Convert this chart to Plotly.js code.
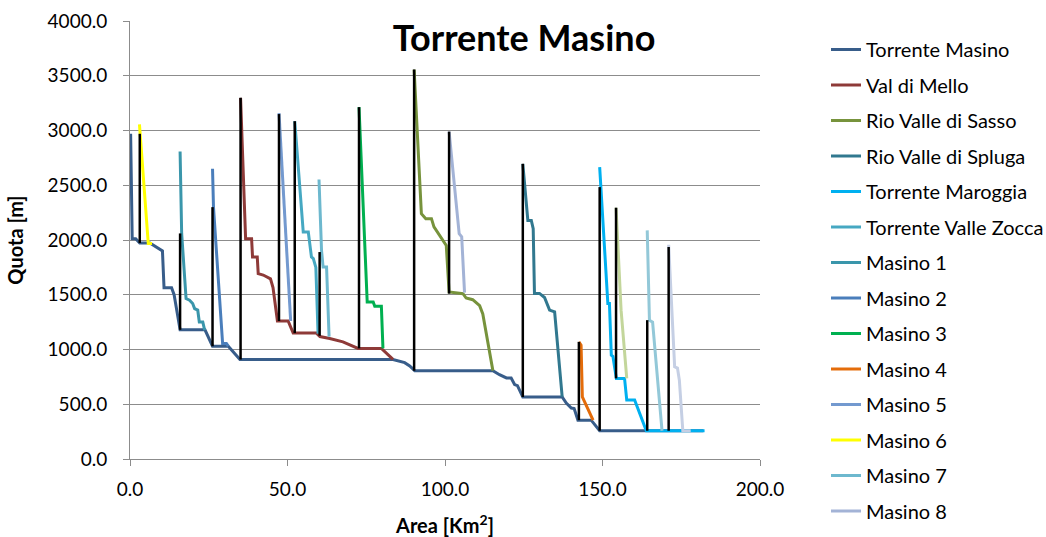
<!DOCTYPE html>
<html>
<head>
<meta charset="utf-8">
<script src="https://cdn.plot.ly/plotly-3.0.1.min.js"></script>
<style>html,body{margin:0;padding:0;background:#fff}#chart{width:1046px;height:537px}</style>
</head>
<body>
<div id="chart"></div>
<script>
// ---- data (Area in km², Quota in m) ----
const mainX = [0.2, 0.7, 1.8, 3.1, 6.3, 7.4, 8.5, 10.3, 10.8, 13.2, 14.0, 15.9, 23.8, 26.2, 31.2, 34.9, 83.5, 85.0, 87.2, 88.8, 90.4, 115.2, 117.3, 119.5, 121.0, 122.1, 123.0, 124.7, 137.2, 138.5, 140.1, 141.0, 142.2, 146.4, 149.1, 182.0];
const mainY = [2970, 2012, 2012, 1972, 1972, 1950, 1930, 1900, 1565, 1565, 1500, 1180, 1180, 1030, 1030, 909, 909, 900, 880, 850, 807, 807, 770, 740, 740, 680, 670, 566, 566, 510, 465, 460, 355, 355, 258, 258];

const melloX = [35.1, 36.7, 38.6, 38.9, 40.4, 40.7, 42.3, 44.6, 45.4, 46.8, 50.2, 51.8, 59.2, 60.3, 63.4, 67.6, 72.4, 79.8, 83.5];
const melloY = [3298, 2012, 2012, 1845, 1845, 1693, 1680, 1645, 1565, 1260, 1260, 1150, 1150, 1118, 1100, 1070, 1010, 1010, 909];

const sassoX = [90.2, 92.5, 93.9, 95.7, 96.5, 99.4, 100.4, 101.3, 105.7, 106.7, 108.8, 111.0, 112.0, 115.2];
const sassoY = [3556, 2240, 2195, 2195, 2120, 1995, 1950, 1525, 1510, 1470, 1455, 1400, 1325, 807];

const splugaX = [124.7, 126.3, 127.4, 128.0, 128.4, 130.0, 131.6, 133.2, 134.8, 137.2];
const splugaY = [2696, 2179, 2179, 2104, 1512, 1512, 1475, 1360, 1343, 568];

const maroggiaX = [149.1, 151.7, 152.2, 152.8, 153.3, 154.4, 157.0, 157.7, 160.2, 163.9, 182.4];
const maroggiaY = [2666, 1420, 1420, 948, 938, 736, 736, 538, 538, 258, 258];

const zoccaX = [52.3, 55.0, 56.6, 57.6, 58.2, 59.0, 59.7];
const zoccaY = [3085, 2073, 2073, 1845, 1830, 1750, 1145];

const m1X = [15.9, 16.4, 17.8, 18.9, 19.9, 20.5, 21.5, 22.0, 23.1, 23.7];
const m1Y = [2808, 2060, 1465, 1450, 1420, 1374, 1360, 1252, 1252, 1177];

const m2X = [26.2, 26.5, 29.4, 30.6, 31.2];
const m2Y = [2650, 2300, 1055, 1055, 1030];

const m3X = [72.7, 75.3, 77.2, 77.7, 79.8, 80.3];
const m3Y = [3213, 1434, 1434, 1395, 1395, 1010];

const m4X = [142.5, 143.2, 143.6, 147.0];
const m4Y = [1070, 1040, 568, 355];

const m5X = [47.3, 51.0];
const m5Y = [3158, 1260];

const m6X = [3.0, 5.8, 7.0];
const m6Y = [3055, 1967, 1967];

const m7X = [60.0, 60.8, 61.3, 62.4, 63.2];
const m7Y = [2553, 1906, 1753, 1753, 1118];

const m8X = [101.3, 104.5, 105.3, 106.2];
const m8Y = [2990, 2058, 2030, 1520];

const m9X = [154.3, 155.9, 157.7];
const m9Y = [2295, 1359, 736];

const m10X = [164.2, 164.9, 165.9, 168.9];
const m10Y = [2088, 1268, 1250, 258];

const m11X = [171.0, 172.9, 173.8, 174.4, 175.5, 178.0];
const m11Y = [1957, 842, 830, 720, 258, 258];

// junction connectors: x, top quota, bottom quota
const junctionX = [3.1, 15.9, 26.2, 35.1, 47.3, 52.3, 60.2, 72.7, 90.2, 101.3, 124.7, 142.5, 149.1, 154.3, 164.2, 171.0];
const junctionTop = [2970, 2060, 2300, 3298, 3150, 3085, 1890, 3213, 3556, 2990, 2696, 1070, 2483, 2295, 1268, 1936];
const junctionBottom = [1972, 1180, 1030, 909, 1260, 1150, 1125, 1010, 807, 1510, 566, 355, 258, 736, 258, 258];

const seriesNames = ['Torrente Masino','Val di Mello','Rio Valle di Sasso','Rio Valle di Spluga','Torrente Maroggia','Torrente Valle Zocca','Masino 1','Masino 2','Masino 3','Masino 4','Masino 5','Masino 6','Masino 7','Masino 8','Masino 9','Masino 10','Masino 11'];
const seriesX = [mainX, melloX, sassoX, splugaX, maroggiaX, zoccaX, m1X, m2X, m3X, m4X, m5X, m6X, m7X, m8X, m9X, m10X, m11X];
const seriesY = [mainY, melloY, sassoY, splugaY, maroggiaY, zoccaY, m1Y, m2Y, m3Y, m4Y, m5Y, m6Y, m7Y, m8Y, m9Y, m10Y, m11Y];
const seriesColors = ['#385D8A','#8E3A38','#77933C','#31788F','#00B0F0','#46A8C2','#3A96AB','#4A7EBB','#00B050','#E46C0A','#7399CF','#FFFF00','#6DB8CE','#A3B3D6','#C3D69B','#93C8D8','#C5CFE4'];
const legendCount = 14;

const FONT = 'Lato, "Open Sans", sans-serif';

const traces = seriesNames.map((n, i) => ({
  type: 'scatter', mode: 'lines', name: n,
  x: seriesX[i], y: seriesY[i],
  line: {color: seriesColors[i], width: 3},
  showlegend: i < legendCount,
  legendgroup: 'g' + i,
  hoverinfo: 'skip'
}));

const bx = [], by = [];
junctionX.forEach((x, i) => { bx.push(x, x, null); by.push(junctionTop[i], junctionBottom[i], null); });
traces.push({type: 'scatter', mode: 'lines', x: bx, y: by, line: {color: '#000000', width: 2.5}, showlegend: false, hoverinfo: 'skip', connectgaps: false});

const layout = {
  width: 1046, height: 537,
  margin: {l: 130, r: 286, t: 21, b: 78, pad: 0},
  paper_bgcolor: '#ffffff', plot_bgcolor: '#ffffff',
  font: {family: FONT, color: '#000000'},
  title: {text: '<b>Torrente Masino</b>', font: {family: FONT, size: 36, color: '#000'}, xref: 'container', x: 0.501, xanchor: 'center', yref: 'container', y: 1 - 38/537, yanchor: 'middle'},
  xaxis: {
    range: [0, 200], dtick: 50, tick0: 0, tickformat: '.1f',
    showgrid: false, zeroline: false, showline: true, linecolor: '#8C8C8C', linewidth: 1,
    ticks: 'outside', ticklen: 6, tickcolor: '#8C8C8C', ticklabelstandoff: 7,
    tickfont: {family: FONT, size: 19, color: '#000'},
    title: {text: '<b>Area [Km<sup>2</sup>]</b>', font: {family: FONT, size: 20, color: '#000'}, standoff: 21}
  },
  yaxis: {
    range: [0, 4000], dtick: 500, tick0: 0, tickformat: '.1f',
    showgrid: true, gridcolor: '#8C8C8C', gridwidth: 1, zeroline: false,
    showline: true, linecolor: '#8C8C8C', linewidth: 1,
    ticks: 'outside', ticklen: 6, tickcolor: '#8C8C8C', ticklabelstandoff: 12,
    tickfont: {family: FONT, size: 19, color: '#000'},
    title: {text: '<b>Quota [m]</b>', font: {family: FONT, size: 20, color: '#000'}, standoff: 18}
  },
  legend: {
    xref: 'container', yref: 'container', x: 826/1046, y: 1 - 30/537, xanchor: 'left', yanchor: 'top',
    font: {family: FONT, size: 20, color: '#000'}, maxheight: 532,
    traceorder: 'grouped', tracegroupgap: 6.5, bgcolor: 'rgba(0,0,0,0)', borderwidth: 0
  },
  showlegend: true
};

Plotly.newPlot('chart', traces, layout, {displayModeBar: false, staticPlot: true});
</script>
</body>
</html>
